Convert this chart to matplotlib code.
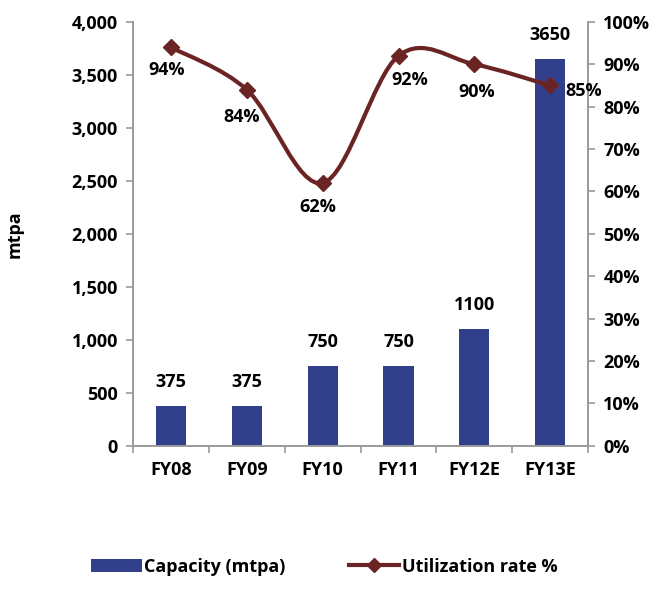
import numpy as np
import matplotlib
matplotlib.use('Agg')
from matplotlib import pyplot as plt
from matplotlib.path import Path
from matplotlib.patches import PathPatch, Patch
from matplotlib.lines import Line2D

plt.rcParams['font.family'] = ['Open Sans', 'DejaVu Sans']
plt.rcParams['font.weight'] = 'bold'
plt.rcParams['font.size'] = 13

years = ['FY08', 'FY09', 'FY10', 'FY11', 'FY12E', 'FY13E']
capacity = [375, 375, 750, 750, 1100, 3650]
utilization = [94, 84, 62, 92, 90, 85]

bar_color = '#323F8A'
line_color = '#6B2424'
axis_grey = '#9A9A9A'

fig = plt.figure(figsize=(6.69, 5.92), dpi=100)
ax = fig.add_axes([0.199, 0.247, 0.680, 0.716])
ax2 = ax.twinx()

x = np.arange(len(years))
ax.bar(x, capacity, width=0.4, color=bar_color, zorder=2)
for xi, c in zip(x, capacity):
    ax.annotate(str(c), (xi, c), xytext=(0, 11), textcoords='offset points',
                ha='center', va='bottom', fontweight='bold')

ax.set_xlim(-0.5, len(years) - 0.5)
ax.set_ylim(0, 4000)
ax.set_yticks(np.arange(0, 4001, 500))
ax.set_yticklabels(['{:,}'.format(v) for v in range(0, 4001, 500)])
ax.set_xticks(x)
ax.set_xticklabels(years)
ax.set_xticks(np.arange(-0.5, len(years)), minor=True)
ax.tick_params(axis='x', which='major', length=0, pad=11)
ax.tick_params(axis='x', which='minor', length=5, color=axis_grey, width=1.2)
ax.tick_params(axis='y', length=5, color=axis_grey, width=1.2, pad=6)
ax.set_ylabel('mtpa', fontweight='bold')
ax.yaxis.set_label_coords(-0.24, 0.5)

ax2.set_ylim(0, 100)
ax2.set_yticks(np.arange(0, 101, 10))
ax2.set_yticklabels(['{}%'.format(v) for v in range(0, 101, 10)])
ax2.tick_params(axis='y', length=5, color=axis_grey, width=1.2, pad=6)

for a in (ax, ax2):
    a.spines['top'].set_visible(False)
    for s in ('left', 'right', 'bottom'):
        a.spines[s].set_color(axis_grey)
        a.spines[s].set_linewidth(1.2)

# smoothed line (bezier through the points, like a spreadsheet smooth line)
pts = np.column_stack([x, utilization]).astype(float)
n = len(pts)
verts = [pts[0]]
codes = [Path.MOVETO]
for i in range(n - 1):
    p0 = pts[max(i - 1, 0)]
    p1 = pts[i]
    p2 = pts[i + 1]
    p3 = pts[min(i + 2, n - 1)]
    c1 = p1 + (p2 - p0) / 6.0
    c2 = p2 - (p3 - p1) / 6.0
    verts += [c1, c2, p2]
    codes += [Path.CURVE4] * 3
ax2.add_patch(PathPatch(Path(verts, codes), facecolor='none',
                        edgecolor=line_color, lw=3, zorder=3))
ax2.plot(x, utilization, linestyle='none', marker='D', markersize=8,
         color=line_color, zorder=4)

offsets = [(-3.5, -16), (-3.5, -19.5), (-3.5, -17.5), (8, -17.5), (2, -20), (24, -4.3)]
for xi, u, off in zip(x, utilization, offsets):
    ax2.annotate('{}%'.format(u), (xi, u), xytext=off, textcoords='offset points',
                 ha='center', va='center', fontweight='bold')

handles = [Patch(facecolor=bar_color, edgecolor='none'),
           Line2D([], [], color=line_color, lw=3, marker='D', markersize=7)]
fig.legend(handles, ['Capacity (mtpa)', 'Utilization rate %'],
           loc='center', bbox_to_anchor=(0.485, 0.043), ncol=2, frameon=False,
           handlelength=2.8, handletextpad=0.15, columnspacing=3.5,
           prop={'weight': 'bold', 'size': 13})

fig.savefig('out.png', dpi=100)
